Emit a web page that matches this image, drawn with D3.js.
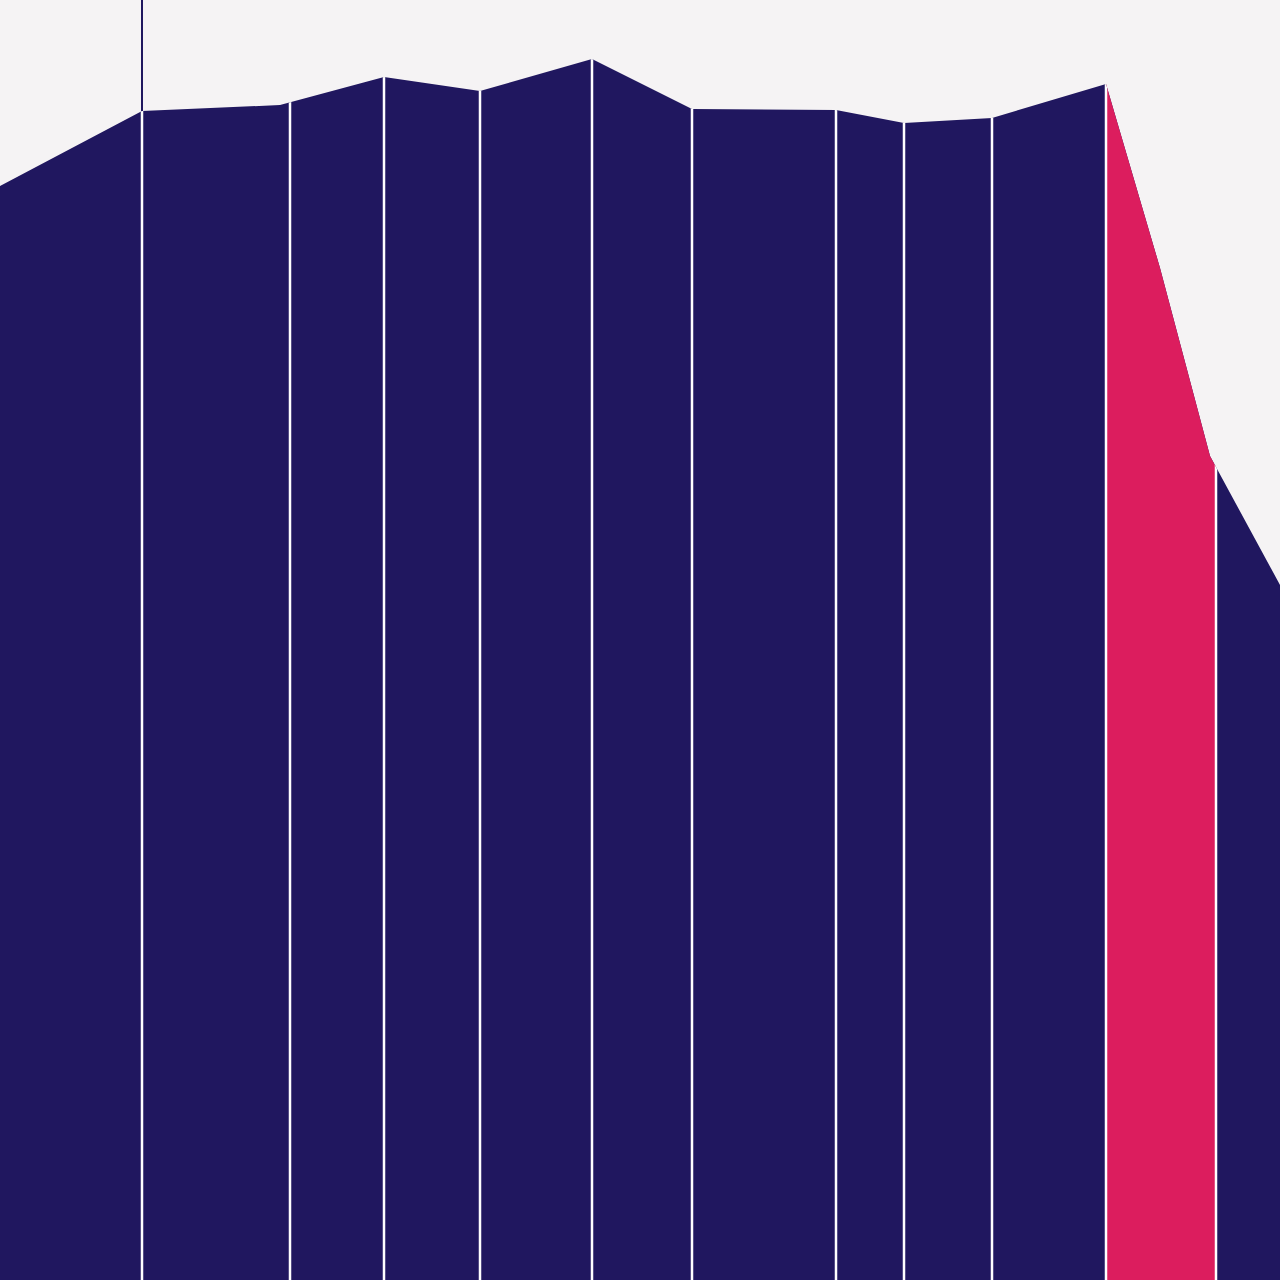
<!DOCTYPE html>
<html>
<head>
<meta charset="utf-8">
<script src="https://cdn.jsdelivr.net/npm/d3@7"></script>
<style>
  html, body { margin: 0; padding: 0; background: #f5f3f4; overflow: hidden; }
  svg { display: block; }
</style>
</head>
<body>
<div id="chart"></div>
<script>
// series points (x position, value)
const xs = [0, 14.2, 28, 38.4, 48, 59.2, 69.2, 83.6, 90.4, 99.2, 110.6, 116, 121, 128];
const values = [111.4, 118.9, 119.5, 122.3, 120.9, 124.1, 119.1, 119.0, 117.7, 118.2, 121.6, 103.2, 84.4, 71.5];

// period boundaries
const breaks = [14.2, 29, 38.4, 48, 59.2, 69.2, 83.6, 90.4, 99.2, 110.6, 121.6];
// highlighted period
const highlight = [110.6, 121.6];
// marker line
const marker = 14.2;

const width = 1280, height = 1280;
const navy = "#20175f", pink = "#dc1d5e", bg = "#f5f3f4";

const x = d3.scaleLinear().domain([0, 128]).range([0, width]);
const y = d3.scaleLinear().domain([0, 130]).range([1300, 0]);

const data = xs.map((d, i) => ({x: d, v: values[i]}));

const svg = d3.select("#chart").append("svg")
    .attr("width", width)
    .attr("height", height);

svg.append("rect").attr("width", width).attr("height", height).attr("fill", bg);

const area = d3.area()
    .x(d => x(d.x))
    .y0(height + 20)
    .y1(d => y(d.v));

const defs = svg.append("defs");
defs.append("clipPath").attr("id", "areaClip")
    .append("path").attr("d", area(data));
defs.append("clipPath").attr("id", "hiClip")
    .append("rect")
    .attr("x", x(highlight[0]))
    .attr("width", x(highlight[1]) - x(highlight[0]))
    .attr("y", 0).attr("height", height);

svg.append("path").attr("d", area(data)).attr("fill", navy);
svg.append("path").attr("d", area(data)).attr("fill", pink)
    .attr("clip-path", "url(#hiClip)");

// marker line above the area
const interp = v => {
    const i = d3.bisectRight(xs, v) - 1;
    const t = (v - xs[i]) / (xs[i + 1] - xs[i]);
    return values[i] + t * (values[i + 1] - values[i]);
};
svg.append("line")
    .attr("x1", x(marker)).attr("x2", x(marker))
    .attr("y1", 0).attr("y2", y(interp(marker)))
    .attr("stroke", navy).attr("stroke-width", 2);

// white separators inside the area
svg.append("g").attr("clip-path", "url(#areaClip)")
    .selectAll("line")
    .data(breaks)
    .join("line")
    .attr("x1", d => x(d)).attr("x2", d => x(d))
    .attr("y1", 0).attr("y2", height)
    .attr("stroke", "#fff").attr("stroke-width", 2.5);
</script>
</body>
</html>
